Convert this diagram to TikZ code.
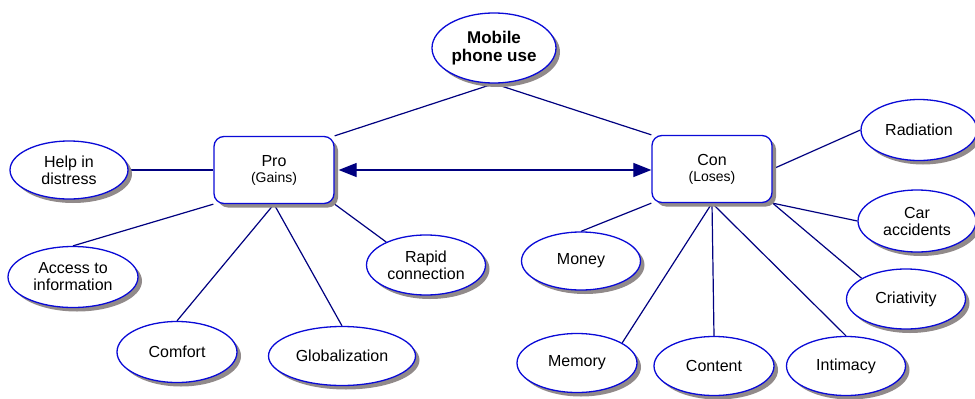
\documentclass[tikz,border=0pt]{standalone}
\usepackage{fontspec}
\setmainfont{Liberation Sans}
\usetikzlibrary{shapes.geometric,shadows,arrows.meta,backgrounds}

\definecolor{ovalblue}{RGB}{10,10,215}
\definecolor{linknavy}{RGB}{0,0,128}
\definecolor{shadowgray}{RGB}{145,138,138}

\begin{document}
\begin{tikzpicture}[x=1pt,y=-1pt,
  oval/.style={ellipse,draw=ovalblue,line width=1.3pt,fill=white,
    drop shadow={shadow xshift=4pt,shadow yshift=-4pt,fill=shadowgray,opacity=1},
    inner sep=0pt,align=center,minimum width=120pt,minimum height=60pt,
    font=\fontsize{16}{17}\selectfont},
  sidebox/.style={rectangle,rounded corners=10pt,draw=ovalblue,line width=1.3pt,fill=white,
    drop shadow={shadow xshift=4pt,shadow yshift=-4pt,fill=shadowgray,opacity=1},
    inner sep=0pt,align=center,minimum width=120pt,minimum height=67pt,
    font=\fontsize{16}{16}\selectfont},
  link/.style={draw=linknavy,line width=1.2pt}]

\useasboundingbox (0,0) rectangle (975,399);

% Top node and the two sides
\node[oval,minimum width=124pt,minimum height=70pt,font=\bfseries\fontsize{17}{18}\selectfont] (mob) at (494,48) {Mobile\\phone use};
\node[sidebox] (pro) at (274,170) {Pro\\{\fontsize{14}{15}\selectfont(Gains)}};
\node[sidebox] (con) at (712,169) {Con\\{\fontsize{14}{15}\selectfont(Loses)}};

% Gains
\node[oval,minimum width=118pt,minimum height=58pt] (help) at (69,170) {Help in\\distress};
\node[oval,minimum width=130pt,minimum height=61pt] (acc) at (73,277) {Access to\\information};
\node[oval,minimum height=61pt] (comf) at (177,352) {Comfort};
\node[oval,minimum width=147pt,minimum height=59pt] (glob) at (342,356) {Globalization};
\node[oval,minimum width=119pt] (rap) at (426,265) {Rapid\\connection};

% Loses
\node[oval,minimum width=119pt,minimum height=58pt] (mon) at (581,261) {Money};
\node[oval,minimum height=59pt] (mem) at (577,363) {Memory};
\node[oval,minimum height=59pt] (cont) at (714,366) {Content};
\node[oval,minimum width=119pt,minimum height=59pt] (inti) at (846,366) {Intimacy};
\node[oval,minimum width=116pt,minimum height=61pt] (rad) at (919,130) {Radiation};
\node[oval,minimum width=118pt,minimum height=62pt] (car) at (917,221) {Car\\accidents};
\node[oval,minimum width=119pt] (cri) at (906,299) {Criativity};

% Connectors behind the nodes
\begin{scope}[on background layer]
\draw[link] (mob.south) -- (pro.north east);
\draw[link] (mob.south) -- (con.north west);

\draw[link] (help.east) -- (pro.west);
\draw[link] (acc.north) -- (pro.south west);
\draw[link] (comf.north) -- (pro.south);
\draw[link] (glob.north) -- (pro.south);
\draw[link] (rap.150) -- (pro.south east);

\draw[link] (con.east) -- (rad.west);
\draw[link] (con.south east) -- (car.west);
\draw[link] (con.south east) -- (cri.155);
\draw[link] (con.south west) -- (mon.north);
\draw[link] (con.south) -- (mem.24);
\draw[link] (con.south) -- (cont.north);
\draw[link] (con.south) -- (inti.north);
\end{scope}

% Pro <-> Con
\draw[link,{Triangle[length=18pt,width=14pt]}-{Triangle[length=18pt,width=14pt]},shorten <=4pt] (pro.east) -- (pro.east -| con.west);
\end{tikzpicture}
\end{document}
